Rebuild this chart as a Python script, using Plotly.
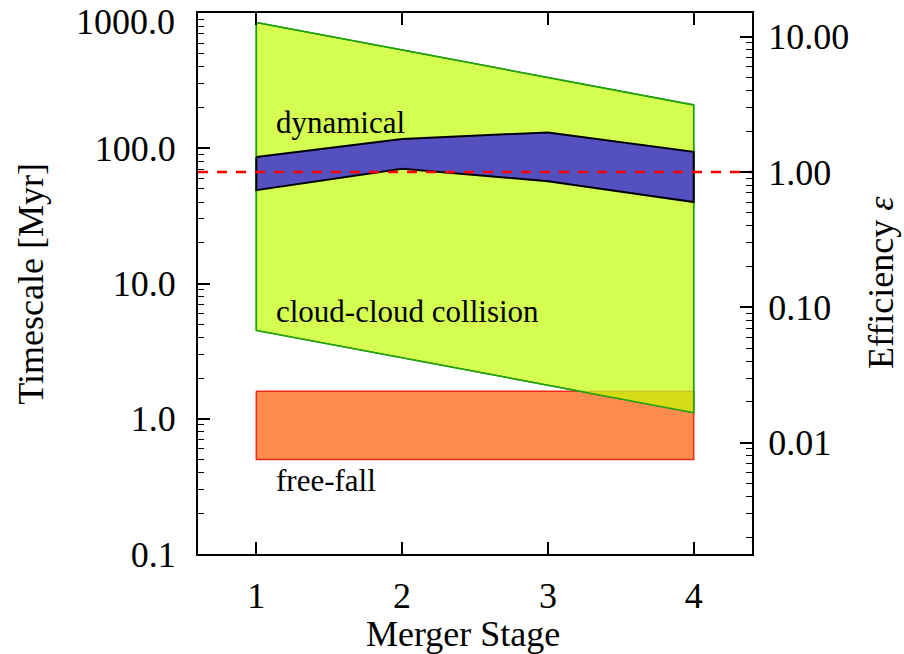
import math
import plotly.graph_objects as go

# ---- data ----
stages = [1, 2, 3, 4]
dyn_upper = [86, 117, 131, 94]
dyn_lower = [49, 70.5, 57, 40]
coll_x = [1, 4]
coll_upper = [850, 209]
coll_lower = [4.5, 1.11]
ff_x = [1, 4]
ff_upper = [1.6, 1.6]
ff_lower = [0.5, 0.5]
eps_ref_timescale = 66.7   # timescale (Myr) at which efficiency = 1

left_tickvals = [0.1, 1, 10, 100, 1000]
left_ticktext = ["0.1", "1.0", "10.0", "100.0", "1000.0"]
right_tickvals = [0.01, 0.1, 1, 10]
right_ticktext = ["0.01", "0.10", "1.00", "10.00"]
x_tickvals = [1, 2, 3, 4]
x_ticktext = ["1", "2", "3", "4"]

labels = ["dynamical", "cloud-cloud collision", "free-fall"]
x_title = "Merger Stage"
y_title = "Timescale [Myr]"
y2_title = "Efficiency <i>ε</i>"

# ---- styles ----
FONT = "Liberation Serif"
FS = 36
GREEN_FILL = "#d4ff50"
GREEN_LINE = "#22a010"
BLUE_FILL = "#5450bf"
ORANGE_FILL = "#ff8c4c"
ORANGE_LINE = "#ee2a1a"
OVERLAP_FILL = "#d4dc16"

fig = go.Figure()

# free-fall band
fx = ff_x + ff_x[::-1] + [ff_x[0]]
fy = ff_upper + ff_lower[::-1] + [ff_upper[0]]
fig.add_trace(go.Scatter(x=fx, y=fy, mode="lines", fill="toself",
                         fillcolor=ORANGE_FILL, line=dict(color=ORANGE_LINE, width=1.5),
                         hoverinfo="skip", showlegend=False))

# cloud-cloud collision band
gx = coll_x + coll_x[::-1] + [coll_x[0]]
gy = coll_upper + coll_lower[::-1] + [coll_upper[0]]
fig.add_trace(go.Scatter(x=gx, y=gy, mode="lines", fill="toself",
                         fillcolor=GREEN_FILL, line=dict(color=GREEN_LINE, width=1.5),
                         hoverinfo="skip", showlegend=False))

# overlap of collision band and free-fall band (derived from data)
l0, l1 = math.log10(coll_lower[0]), math.log10(coll_lower[1])
lt = math.log10(ff_upper[0])
x_int = coll_x[0] + (coll_x[1] - coll_x[0]) * (l0 - lt) / (l0 - l1)
ox = [x_int, ff_x[1], coll_x[1], x_int]
oy = [ff_upper[0], ff_upper[1], coll_lower[1], ff_upper[0]]
fig.add_trace(go.Scatter(x=ox, y=oy, mode="lines", fill="toself",
                         fillcolor=OVERLAP_FILL, line=dict(color="rgba(0,0,0,0)", width=0),
                         hoverinfo="skip", showlegend=False))
fig.add_trace(go.Scatter(x=[x_int, ff_x[1]], y=[ff_upper[0], ff_upper[1]], mode="lines",
                         line=dict(color="#c8b424", width=1),
                         hoverinfo="skip", showlegend=False))
fig.add_trace(go.Scatter(x=gx, y=gy, mode="lines",
                         line=dict(color=GREEN_LINE, width=1.5),
                         hoverinfo="skip", showlegend=False))

# dynamical band
bx = stages + stages[::-1] + [stages[0]]
by = dyn_upper + dyn_lower[::-1] + [dyn_upper[0]]
fig.add_trace(go.Scatter(x=bx, y=by, mode="lines", fill="toself",
                         fillcolor=BLUE_FILL, line=dict(color="black", width=2),
                         hoverinfo="skip", showlegend=False))

# efficiency = 1 line on right axis
fig.add_trace(go.Scatter(x=[0.6, 4.4], y=[1, 1], mode="lines", yaxis="y2",
                         line=dict(color="#ff0000", width=2.5, dash="10px,9px"),
                         hoverinfo="skip", showlegend=False))

def minor_vals(lo, hi):
    out = []
    for e in range(-4, 5):
        for k in range(2, 10):
            v = k * 10 ** e
            if lo <= v <= hi:
                out.append(v)
    return out

y_lo, y_hi = 0.1, 1000
r_lo, r_hi = y_lo / eps_ref_timescale, y_hi / eps_ref_timescale

tickfont = dict(family=FONT, size=FS, color="black")
# top label is placed by hand (it would overflow the page at the axis edge)
left_ticktext_shown = left_ticktext[:-1] + [""]

def ann(text, x, y, size=FS, angle=0, xanchor="center"):
    return dict(text=text, x=x, y=y, xref="paper", yref="paper",
                xanchor=xanchor, yanchor="middle", showarrow=False, textangle=angle,
                font=dict(family=FONT, size=size, color="black"))

fig.update_layout(
    width=904, height=654,
    margin=dict(l=198, r=152, t=11, b=100),
    plot_bgcolor="white", paper_bgcolor="white",
    font=dict(family=FONT, color="black"),
    xaxis=dict(range=[0.6, 4.4], tickvals=x_tickvals, ticktext=x_ticktext,
               ticks="inside", ticklen=12, tickwidth=1.5, tickcolor="black",
               showline=True, linecolor="black", linewidth=2, mirror="ticks",
               showgrid=False, zeroline=False, tickfont=tickfont,
               ticklabelstandoff=9),
    yaxis=dict(type="log", range=[math.log10(y_lo), math.log10(y_hi)],
               tickvals=left_tickvals, ticktext=left_ticktext_shown,
               ticks="inside", ticklen=12, tickwidth=2, tickcolor="black",
               minor=dict(ticks="inside", ticklen=6, tickwidth=1, tickcolor="black",
                          tickvals=minor_vals(y_lo, y_hi), showgrid=False),
               showline=True, linecolor="black", linewidth=2, mirror=False,
               showgrid=False, zeroline=False, tickfont=tickfont,
               ticklabelstandoff=13),
    yaxis2=dict(type="log", overlaying="y", side="right",
                range=[math.log10(r_lo), math.log10(r_hi)],
                tickvals=right_tickvals, ticktext=right_ticktext,
                ticks="inside", ticklen=12, tickwidth=2, tickcolor="black",
                minor=dict(ticks="inside", ticklen=6, tickwidth=1, tickcolor="black",
                           tickvals=minor_vals(r_lo, r_hi), showgrid=False),
                showline=True, linecolor="black", linewidth=2,
                showgrid=False, zeroline=False, tickfont=tickfont,
                ticklabelstandoff=7),
    annotations=[
        ann(labels[0], 0.137, 0.797, size=31, xanchor="left"),
        ann(labels[1], 0.137, 0.449, size=31, xanchor="left"),
        ann(labels[2], 0.137, 0.136, size=31, xanchor="left"),
        ann(left_ticktext[-1], -0.038, 0.983, xanchor="right"),
        ann(x_title, 0.478, -0.148),
        ann(y_title, -0.303, 0.5, angle=-90),
        ann(y2_title, 1.233, 0.501, angle=-90),
    ],
)

fig.write_html("out.html")
